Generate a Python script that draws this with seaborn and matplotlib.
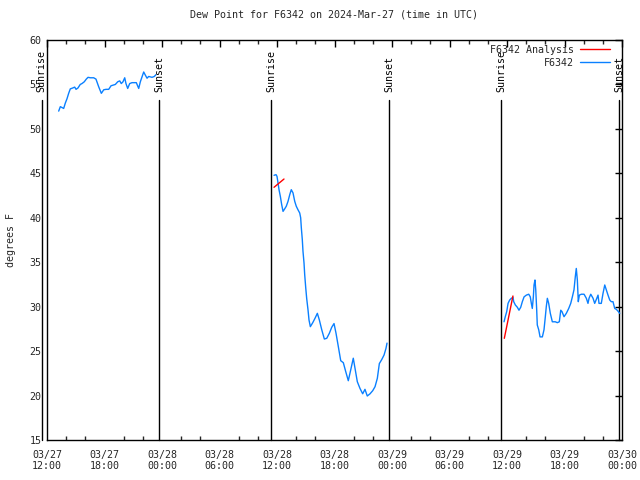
import matplotlib
matplotlib.use("Agg")
import matplotlib.pyplot as plt
import matplotlib.dates as mdates
from matplotlib.lines import Line2D
import seaborn as sns
import pandas as pd

# ---- data (hours after 2024-03-27 12:00 UTC, dew point in F) ----
seg1_hours = [1.22, 1.39, 1.57, 1.74, 1.91, 2.09, 2.26, 2.43, 2.68, 2.89, 3.03, 3.23, 3.47, 3.65,
              3.89, 4.10, 4.28, 4.52, 4.87, 5.11, 5.39, 5.67, 5.92, 6.16, 6.44, 6.68, 7.13, 7.38,
              7.59, 7.75, 7.93, 8.11, 8.24, 8.42, 8.63, 8.87, 9.32, 9.57, 9.74, 10.09, 10.26,
              10.44, 10.61, 10.96, 11.20, 11.37]
seg1_vals = [52.0, 52.5, 52.4, 52.3, 52.9, 53.4, 54.0, 54.5, 54.6, 54.7, 54.45, 54.6, 55.0, 55.1,
             55.3, 55.6, 55.8, 55.75, 55.75, 55.6, 54.75, 54.0, 54.4, 54.45, 54.45, 54.85, 55.0,
             55.3, 55.4, 55.1, 55.3, 55.75, 55.1, 54.55, 55.1, 55.2, 55.2, 54.55, 55.3, 56.4,
             56.05, 55.7, 55.9, 55.8, 55.9, 56.1]

seg2_hours = [23.69, 23.90, 24.00, 24.11, 24.21, 24.35, 24.49, 24.63, 24.80, 24.97,
              25.15, 25.33, 25.49, 25.67, 25.85, 26.01, 26.19, 26.37, 26.47, 26.54,
              26.64, 26.71, 26.82, 26.89, 27.00, 27.10, 27.24, 27.34, 27.48, 27.73,
              27.97, 28.21, 28.42, 28.67, 28.94, 29.19, 29.46, 29.71, 29.95, 30.16,
              30.40, 30.65, 30.92, 31.17, 31.44, 31.69, 31.96, 32.14, 32.38, 32.66,
              32.94, 33.18, 33.42, 33.71, 33.99, 34.23, 34.47, 34.68, 34.93, 35.17,
              35.37, 35.48]
seg2_vals = [44.78, 44.85, 44.66, 43.9, 43.16, 42.4, 41.47, 40.72, 41.0, 41.3,
             41.85, 42.6, 43.16, 42.8, 41.85, 41.3, 40.9, 40.54, 40.0, 38.85,
             37.55, 36.25, 34.9, 33.6, 32.1, 30.9, 29.6, 28.5, 27.75, 28.2,
             28.7, 29.25, 28.5, 27.4, 26.36, 26.44, 27.0, 27.68, 28.1, 27.0,
             25.5, 23.92, 23.7, 22.7, 21.67, 22.875, 24.2, 23.07, 21.56, 20.8,
             20.2, 20.7, 19.95, 20.2, 20.55, 21.0, 21.94, 23.6, 24.05, 24.56,
             25.3, 25.9]

seg3_hours = [47.69, 47.82, 47.97, 48.11, 48.28, 48.45, 48.63, 48.70, 48.87, 49.08,
              49.25, 49.43, 49.60, 49.78, 50.02, 50.27, 50.43, 50.54, 50.64, 50.75,
              50.82, 50.92, 51.00, 51.10, 51.16, 51.31, 51.45, 51.69, 51.86, 52.00,
              52.10, 52.21, 52.35, 52.52, 52.73, 53.04, 53.25, 53.46, 53.61, 53.74,
              53.95, 54.19, 54.44, 54.65, 54.82, 54.99, 55.13, 55.23, 55.34, 55.44,
              55.55, 55.76, 56.04, 56.28, 56.45, 56.56, 56.74, 56.98, 57.15, 57.32,
              57.50, 57.60, 57.84, 58.02, 58.20, 58.36, 58.54, 58.72, 58.88, 59.06,
              59.24, 59.41, 59.58, 59.76]
seg3_vals = [28.3, 28.87, 29.44, 30.37, 30.75, 30.94, 31.05, 30.56, 30.19, 29.93,
             29.6, 29.93, 30.56, 31.1, 31.3, 31.4, 31.1, 30.37, 29.8, 31.1,
             32.44, 33.0, 31.9, 29.6, 27.94, 27.4, 26.6, 26.6, 27.4, 28.87,
             30.0, 30.94, 30.37, 29.25, 28.3, 28.3, 28.2, 28.3, 29.6, 29.44,
             28.87, 29.25, 29.8, 30.37, 31.1, 31.9, 33.4, 34.3, 33.0, 30.56,
             31.3, 31.4, 31.4, 30.94, 30.37, 30.94, 31.4, 30.94, 30.37, 30.81,
             31.3, 30.37, 30.37, 31.5, 32.44, 31.9, 31.3, 30.75, 30.56, 30.56,
             29.8, 29.7, 29.5, 29.25]

analysis_hours = [23.69, 24.73, 47.72, 48.62]
analysis_vals = [43.43, 44.36, 26.44, 31.2]
analysis_seg = [1, 1, 2, 2]

sun_hours = [-0.55, 11.72, 23.37, 35.72, 47.40, 59.72]
sun_labels = ["Sunrise", "Sunset", "Sunrise", "Sunset", "Sunrise", "Sunset"]

series_names = ["F6342 Analysis", "F6342"]
title = "Dew Point for F6342 on 2024-Mar-27 (time in UTC)"
start = pd.Timestamp("2024-03-27 12:00")
end = pd.Timestamp("2024-03-30 00:00")

def to_time(h):
    return start + pd.to_timedelta(pd.Series(h, dtype=float), unit="h")

obs = pd.DataFrame({
    "time": pd.concat([to_time(seg1_hours), to_time(seg2_hours), to_time(seg3_hours)], ignore_index=True),
    "value": seg1_vals + seg2_vals + seg3_vals,
    "seg": [1] * len(seg1_vals) + [2] * len(seg2_vals) + [3] * len(seg3_vals),
})
ana = pd.DataFrame({"time": to_time(analysis_hours), "value": analysis_vals, "seg": analysis_seg})

sns.set_style("white")
plt.rcParams["font.family"] = ["DejaVu Sans Mono"]
FS = 7.2

fig = plt.figure(figsize=(6.4, 4.8), dpi=100)
ax = fig.add_axes([47 / 640, 40 / 480, 575 / 640, 400 / 480])

blue = "#0a80ff"
red = "#ff0000"
sns.lineplot(data=ana, x="time", y="value", units="seg", estimator=None, color=red,
             lw=1.0, ax=ax, legend=False, zorder=4)
sns.lineplot(data=obs, x="time", y="value", units="seg", estimator=None, color=blue,
             lw=1.0, ax=ax, legend=False, zorder=3)

ax.set_xlim(start, end)
ax.set_ylim(15, 60)
ax.set_yticks(range(15, 61, 5))

# sunrise / sunset markers
for h, lab in zip(sun_hours, sun_labels):
    t = start + pd.Timedelta(hours=h)
    ax.plot([t, t], [15, 53.25], color="black", lw=1.0, clip_on=False, zorder=2)
    ax.text(t, 54.15, lab, rotation=90, ha="center", va="bottom", fontsize=FS,
            color="black", clip_on=False)

ax.xaxis.set_major_locator(mdates.HourLocator(byhour=[0, 6, 12, 18]))
ax.xaxis.set_minor_locator(mdates.HourLocator(interval=2))
ax.xaxis.set_major_formatter(mdates.DateFormatter("%m/%d\n%H:%M"))

ax.tick_params(axis="both", which="major", direction="in", length=5, width=1,
               top=True, right=True, labelsize=FS, color="black")
ax.tick_params(axis="x", which="minor", direction="in", length=3, width=1,
               top=True, bottom=True)
ax.tick_params(axis="x", which="major", pad=7)
ax.tick_params(axis="y", which="major", pad=4)

for sp in ax.spines.values():
    sp.set_color("black")
    sp.set_linewidth(1.0)

ax.set_xlabel("")
ax.set_ylabel("degrees F", fontsize=FS, labelpad=10)
ax.set_title(title, fontsize=FS, pad=16)

handles = [Line2D([], [], color=red, lw=1.0), Line2D([], [], color=blue, lw=1.0)]
ax.legend(handles, series_names, loc="upper right", bbox_to_anchor=(0.979, 0.988),
          frameon=False, markerfirst=False, fontsize=FS, handlelength=3.0,
          handletextpad=0.6, labelspacing=0.3, borderpad=0, borderaxespad=0)

fig.savefig("out.png", dpi=100)
